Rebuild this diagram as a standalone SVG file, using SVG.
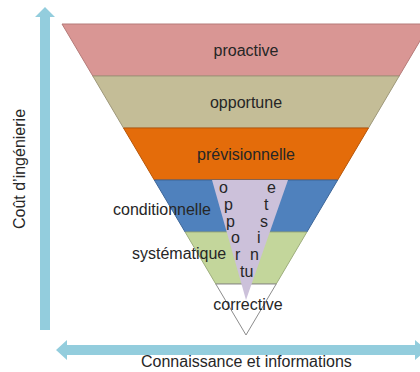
<svg xmlns="http://www.w3.org/2000/svg" width="420" height="372" viewBox="0 0 420 372">
<style>
text{font-family:"Liberation Sans",Arial,sans-serif;font-size:16px;fill:#262626}
.c{text-anchor:middle}
.band{stroke-width:1}
.axis{fill:#93CDDD}
</style>
<rect width="420" height="372" fill="#fff"/>
<g id="axes">
<polygon class="axis" points="40,330 40,17 35,17 45,7 55,17 50,17 50,330"/>
<polygon class="axis" points="56,350 67,340 67,345 415,345 415,340 427,350 415,360 415,355 67,355 67,360"/>
<text class="c" transform="translate(25,169) rotate(-90)">Coût d’ingénierie</text>
<text x="141" y="367">Connaissance et informations</text>
</g>
<g id="proactive">
<polygon class="band" points="62,24 430,24 399.2,76 92.8,76" fill="#D99694" stroke="#B57B79"/>
<text class="c" x="246" y="56">proactive</text>
</g>
<g id="opportune">
<polygon class="band" points="92.8,76 399.2,76 368.5,128 123.5,128" fill="#C4BD97" stroke="#9E987A"/>
<text class="c" x="246" y="108">opportune</text>
</g>
<g id="previsionnelle">
<polygon class="band" points="123.5,128 368.5,128 337.7,180 154.3,180" fill="#E46C0A" stroke="#B85608"/>
<text class="c" x="246" y="160">prévisionnelle</text>
</g>
<g id="conditionnelle">
<polygon class="band" points="154.3,180 337.7,180 306.9,232 185.1,232" fill="#4F81BD" stroke="#3D6699"/>
</g>
<g id="systematique">
<polygon class="band" points="185.1,232 306.9,232 276.2,284 215.8,284" fill="#C3D69B" stroke="#9EAE7D"/>
</g>
<g id="corrective">
<polygon class="band" points="215.8,284 276.2,284 246,335" fill="#fff" stroke="#8C8C8C"/>
</g>
<g id="opportunistes">
<polygon points="212,180 288,180 246,300" fill="#CCC1DA"/>
<text x="219" y="193">o</text>
<text x="224" y="210">p</text>
<text x="226" y="227">p</text>
<text x="231" y="243">o</text>
<text x="235" y="260">r</text>
<text x="240" y="277">tu</text>
<text x="267" y="193">e</text>
<text x="264" y="210">t</text>
<text x="260" y="227">s</text>
<text x="257" y="243">i</text>
<text x="250" y="260">n</text>
</g>
<g id="labels">
<text x="113" y="215">conditionnelle</text>
<text x="132" y="259">systématique</text>
<text class="c" x="248" y="310">corrective</text>
</g>
</svg>
